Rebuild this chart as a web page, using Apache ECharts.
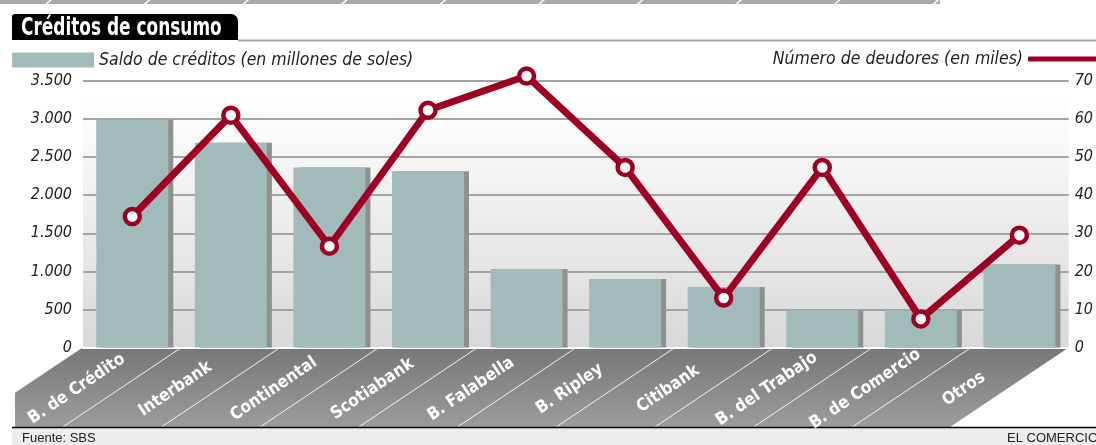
<!DOCTYPE html>
<html>
<head>
<meta charset="utf-8">
<script src="https://cdn.jsdelivr.net/npm/echarts@6/dist/echarts.min.js"></script>
<style>
html,body{margin:0;padding:0;background:#fff;}
#c{width:1096px;height:445px;}
</style>
</head>
<body>
<div id="c"></div>
<script>
const categories = ['B. de Crédito','Interbank','Continental','Scotiabank','B. Falabella','B. Ripley','Citibank','B. del Trabajo','B. de Comercio','Otros'];
const saldo = [2990, 2690, 2365, 2315, 1030, 900, 795, 490, 490, 1090];
const deudores = [34.4, 61, 26.6, 62.3, 71.3, 47.3, 13, 47.3, 7.5, 29.5];
const leftAxis = {min: 0, max: 3500, interval: 500};
const rightAxis = {min: 0, max: 70, interval: 10};
const titleText = 'Créditos de consumo';
const barName = 'Saldo de créditos (en millones de soles)';
const lineName = 'Número de deudores (en miles)';
const sourceText = 'Fuente: SBS';
const creditText = 'EL COMERCIO';

const FONT = "'Liberation Sans Narrow','DejaVu Sans Condensed',sans-serif";
const W = 1096, H = 445;
const gridL = 83, gridR = 1070, gridTop = 81, gridBottomY = 347.5;
const RED = '#9e0022';
const TEAL = '#a1bbba';

function fmt(v){ return String(v).replace(/\B(?=(\d{3})+(?!\d))/g, '.'); }

const chart = echarts.init(document.getElementById('c'), null, {renderer:'canvas'});

const floorTop = 348, floorBot = 427, floorLeftX = 15;
const k = 118/79;
const band = (gridR - gridL) / categories.length;

const graphics = [];
// top stripe
graphics.push({type:'rect', shape:{x:0,y:0,width:940,height:4}, style:{fill:'#a9a9a9'}, silent:true});
for (let i = 0; i < 10; i++) {
  const x = 50 + i*98.6;
  graphics.push({type:'line', shape:{x1:x-5,y1:5,x2:x+2,y2:-1}, style:{stroke:'#fff', lineWidth:1.5}, silent:true});
}
// title tab
graphics.push({type:'rect', shape:{x:12,y:14,width:226,height:26,r:[3,7,0,0]}, style:{fill:'#000'}, silent:true});
graphics.push({type:'text', x:21, y:28.5, scaleX:0.785, style:{text:titleText, fill:'#fff', font:"bold 24px "+FONT, textVerticalAlign:'middle'}, silent:true});
graphics.push({type:'line', shape:{x1:238,y1:40.5,x2:W,y2:40.5}, style:{stroke:'#a0a0a0', lineWidth:2}, silent:true});
// floor
const floorPts = [[gridL-1,floorTop],[gridR-2,floorTop],[gridR-2-79*k,floorBot],[floorLeftX,floorBot],[floorLeftX, floorTop + (gridL-1-floorLeftX)/k]];
graphics.push({type:'polygon', z:-1, shape:{points:floorPts}, style:{fill:new echarts.graphic.LinearGradient(0,0,0,1,[{offset:0,color:'#77777a'},{offset:1,color:'#9c9c9e'}])}, silent:true});
for (let i = 1; i < categories.length; i++) {
  const x = gridL - 1 + i*band;
  graphics.push({type:'line', z:-1, shape:{x1:x,y1:floorTop,x2:x-79*k,y2:floorBot}, style:{stroke:'#f2f2f2', lineWidth:1}, silent:true});
}
// footer
graphics.push({type:'rect', shape:{x:12,y:428,width:W-12,height:17}, style:{fill:'#ececec'}, silent:true});
graphics.push({type:'line', shape:{x1:12,y1:427.5,x2:W,y2:427.5}, style:{stroke:'#000', lineWidth:1.5}, silent:true});
graphics.push({type:'text', x:22, y:438, style:{text:sourceText, fill:'#222', font:"13px 'Liberation Sans','DejaVu Sans',sans-serif", textVerticalAlign:'middle'}, silent:true});
graphics.push({type:'text', x:1007, y:438, style:{text:creditText, fill:'#222', font:"13px 'Liberation Sans','DejaVu Sans',sans-serif", textVerticalAlign:'middle'}, silent:true});

const option = {
  animation: false,
  grid: {left: gridL, right: W - gridR, top: gridTop, bottom: H - gridBottomY, show: true, borderWidth: 0,
    backgroundColor: new echarts.graphic.LinearGradient(0,0,0,1,[{offset:0,color:'#ffffff'},{offset:0.06,color:'#ffffff'},{offset:1,color:'#d8d8da'}])},
  legend: [
    {data:[barName], left: 12, top: 51, padding: 0, itemWidth: 82, itemHeight: 15, icon: 'rect', selectedMode:false,
     textStyle:{fontFamily: FONT, fontStyle:'italic', fontSize: 17.5, color:'#222'}},
    {data:[lineName], right: -2, top: 50, padding: 0, align:'right', itemWidth: 70, itemHeight: 5, icon:'roundRect', selectedMode:false,
     itemStyle:{color: RED, borderWidth:0},
     textStyle:{fontFamily: FONT, fontStyle:'italic', fontSize: 17.5, color:'#222'}}
  ],
  xAxis: {
    type: 'category', data: categories,
    axisLine: {show: true, lineStyle:{color:'#fff', width: 2}},
    axisTick: {show: false},
    axisLabel: {interval: 0, rotate: 34, margin: 4, align: 'center', verticalAlign: 'middle', padding: [0, 134, 0, 0],
      color:'#fff', fontFamily: FONT, fontWeight:'bold', fontSize: 17}
  },
  yAxis: [
    {type:'value', min:leftAxis.min, max:leftAxis.max, interval:leftAxis.interval, position:'left',
     axisLine:{show:false}, axisTick:{show:false},
     splitLine:{show:true, lineStyle:{color:'#a4a4a4', width:2}},
     axisLabel:{margin: 11, color:'#222', fontFamily: FONT, fontStyle:'italic', fontSize: 16, formatter: v => fmt(v)}},
    {type:'value', min:rightAxis.min, max:rightAxis.max, interval:rightAxis.interval, position:'right',
     axisLine:{show:false}, axisTick:{show:false}, splitLine:{show:false},
     axisLabel:{margin: 6, color:'#222', fontFamily: FONT, fontStyle:'italic', fontSize: 16}}
  ],
  series: [
    {name: barName, type:'bar', data: saldo, yAxisIndex: 0, barWidth: 72,
     itemStyle:{color: TEAL, shadowColor:'#8f8f8f', shadowBlur:0, shadowOffsetX:5, shadowOffsetY:0},
     emphasis:{disabled:true}},
    {name: lineName, type:'line', data: deudores, yAxisIndex: 1, clip: false, z: 5,
     symbol:'circle', symbolSize: 15,
     lineStyle:{color: RED, width: 7},
     itemStyle:{color:'#fff', borderColor: RED, borderWidth: 4.5},
     emphasis:{disabled:true}}
  ],
  graphic: graphics
};
chart.setOption(option);
</script>
</body>
</html>
